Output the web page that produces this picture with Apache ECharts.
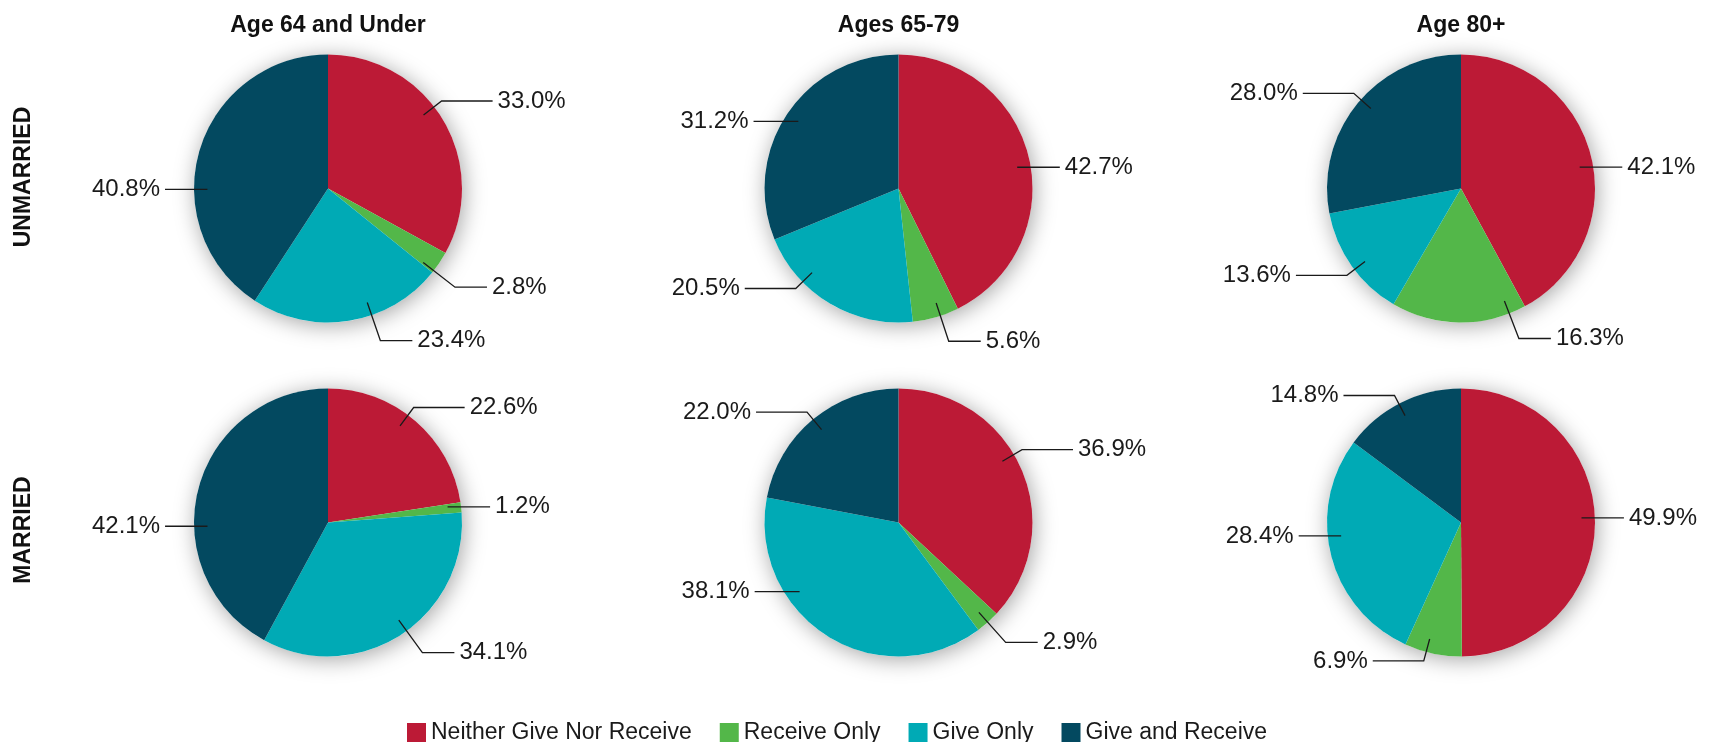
<!DOCTYPE html>
<html>
<head>
<meta charset="utf-8">
<title>Support Exchange by Age and Marital Status</title>
<script src="https://cdn.jsdelivr.net/npm/echarts@6/dist/echarts.min.js"></script>
<style>
  html, body { margin: 0; padding: 0; background: #ffffff; }
  #chart { width: 1720px; height: 742px; }
</style>
</head>
<body>
<div id="chart"></div>
<script>
// ---- data -------------------------------------------------------------
const ageGroups = ['Age 64 and Under', 'Ages 65-79', 'Age 80+'];
const maritalRows = ['UNMARRIED', 'MARRIED'];
const categories = ['Neither Give Nor Receive', 'Receive Only', 'Give Only', 'Give and Receive'];

// shares (%) in category order, one array per age group
const unmarriedShares = [
  [33.0, 2.8, 23.4, 40.8],
  [42.7, 5.6, 20.5, 31.2],
  [42.1, 16.3, 13.6, 28.0]
];
const marriedShares = [
  [22.6, 1.2, 34.1, 42.1],
  [36.9, 2.9, 38.1, 22.0],
  [49.9, 6.9, 28.4, 14.8]
];

// ---- layout & style ---------------------------------------------------
const colors = ['#BC1A36', '#53B749', '#00AAB5', '#034960'];
const FONT = '"Liberation Sans", Arial, sans-serif';
const INK = '#1a1a1a';
const R = 134;
const colX = [328, 898.5, 1461];
const rowY = [188.5, 522.5];

// leader-line tweaks per slice: [angle nudge from slice middle (deg), line kind]
// kinds: 'flat' = straight horizontal, 'up' = short radial elbow + long run,
//        'down' = longer radial elbow + short run
const leaderGuides = [
  [[-7, 'up'], [4, 'down'], [-10, 'down'], [-17, 'flat']],
  [[3, 'flat'], [-2, 'down'], [15, 'up'], [0, 'flat']],
  [[4, 'flat'], [-22, 'down'], [-2, 'up'], [2, 'up']],
  [[-4, 'up'], [-1, 'flat'], [-3, 'down'], [-16, 'flat']],
  [[-7, 'up'], [0, 'down'], [23, 'flat'], [0, 'up']],
  [[-2, 'flat'], [3, 'up'], [8, 'flat'], [-1, 'up']]
];

// pies in reading order: top row unmarried, bottom row married
const pies = [];
maritalRows.forEach(function (row, r) {
  const shares = r === 0 ? unmarriedShares : marriedShares;
  ageGroups.forEach(function (age, c) {
    pies.push({ shares: shares[c], center: [colX[c], rowY[r]] });
  });
});

function sliceData(pie) {
  return categories.map(function (name, i) {
    return { name: name, value: pie.shares[i] };
  });
}

// leader lines start inside the slice, bend just outside the rim and run
// horizontally to the value label
function leaderLayout(pieIdx) {
  const pie = pies[pieIdx];
  const vals = pie.shares;
  const total = vals.reduce(function (a, b) { return a + b; }, 0);
  return function (params) {
    const i = params.dataIndex;
    let before = 0;
    for (let k = 0; k < i; k++) before += vals[k];
    const guide = leaderGuides[pieIdx][i];
    const ang = ((before + vals[i] / 2) / total * 360 + guide[0]) * Math.PI / 180;
    const ux = Math.sin(ang), uy = -Math.cos(ang);
    const cx = pie.center[0], cy = pie.center[1];
    const sgn = ux >= 0 ? 1 : -1;
    const p0 = [cx + ux * R * 0.9, cy + uy * R * 0.9];
    let pts;
    if (guide[1] === 'flat') {
      const dy = p0[1] - cy;
      const edge = Math.sqrt(Math.max(R * R - dy * dy, 0));
      const p2 = [cx + sgn * (edge + 29), p0[1]];
      pts = [p0, [(p0[0] + p2[0]) / 2, p0[1]], p2];
    } else {
      const k = guide[1] === 'down' ? 1.2 : 1.07;
      const run = guide[1] === 'down' ? 32 : 51;
      const p1 = [cx + ux * R * k, cy + uy * R * k];
      pts = [p0, p1, [p1[0] + sgn * run, p1[1]]];
    }
    const end = pts[2];
    return {
      x: end[0] + sgn * 5,
      y: end[1],
      align: sgn > 0 ? 'left' : 'right',
      verticalAlign: 'middle',
      labelLinePoints: pts
    };
  };
}

const series = [];
// soft halo behind each pie
pies.forEach(function (pie) {
  series.push({
    type: 'pie',
    silent: true,
    z: 1,
    center: pie.center,
    radius: R,
    label: { show: false },
    labelLine: { show: false },
    emphasis: { disabled: true },
    itemStyle: {
      color: '#ffffff',
      shadowBlur: 22,
      shadowColor: 'rgba(0,0,0,0.36)',
      shadowOffsetX: 2,
      shadowOffsetY: 3
    },
    data: [{ value: 1, name: '' }]
  });
});
// the coloured pies
pies.forEach(function (pie) {
  series.push({
    type: 'pie',
    z: 2,
    center: pie.center,
    radius: R,
    startAngle: 90,
    clockwise: true,
    emphasis: { disabled: true },
    itemStyle: { borderWidth: 0 },
    label: { show: false },
    labelLine: { show: false },
    data: sliceData(pie)
  });
});
// an invisible copy on top carries the value labels, so the leader lines
// stay visible where they cross into the slices
pies.forEach(function (pie, p) {
  series.push({
    type: 'pie',
    z: 3,
    silent: true,
    center: pie.center,
    radius: R,
    startAngle: 90,
    clockwise: true,
    avoidLabelOverlap: false,
    emphasis: { disabled: true },
    itemStyle: { color: 'rgba(0,0,0,0)', borderWidth: 0 },
    label: {
      show: true,
      position: 'outside',
      fontFamily: FONT,
      fontSize: 24,
      color: INK,
      opacity: 1,
      formatter: function (prm) { return prm.value.toFixed(1) + '%'; }
    },
    labelLine: {
      show: true,
      smooth: false,
      lineStyle: { color: INK, width: 1.3, opacity: 1 }
    },
    labelLayout: leaderLayout(p),
    data: sliceData(pie)
  });
});

const titles = ageGroups.map(function (age, c) {
  return {
    text: age,
    left: colX[c],
    top: 14,
    textAlign: 'center',
    padding: 0,
    textStyle: { fontFamily: FONT, fontSize: 23, fontWeight: 'bold', color: '#111111' }
  };
});

const rowLabels = maritalRows.map(function (row, r) {
  return {
    type: 'text',
    x: 24,
    y: r === 0 ? 177 : 530,
    rotation: Math.PI / 2,
    style: {
      text: row,
      fontFamily: FONT,
      fontSize: 23,
      fontWeight: 'bold',
      fill: '#111111',
      align: 'center',
      verticalAlign: 'middle'
    }
  };
});

const chart = echarts.init(document.getElementById('chart'), null, { renderer: 'canvas' });
chart.setOption({
  animation: false,
  backgroundColor: '#ffffff',
  color: colors,
  title: titles,
  legend: {
    data: categories.map(function (name, i) {
      return { name: name, itemStyle: { color: colors[i] } };
    }),
    left: 402,
    top: 716,
    icon: 'rect',
    itemWidth: 19,
    itemHeight: 19,
    itemGap: 28,
    selectedMode: false,
    textStyle: { fontFamily: FONT, fontSize: 23, color: INK }
  },
  graphic: rowLabels,
  series: series
});
</script>
</body>
</html>
